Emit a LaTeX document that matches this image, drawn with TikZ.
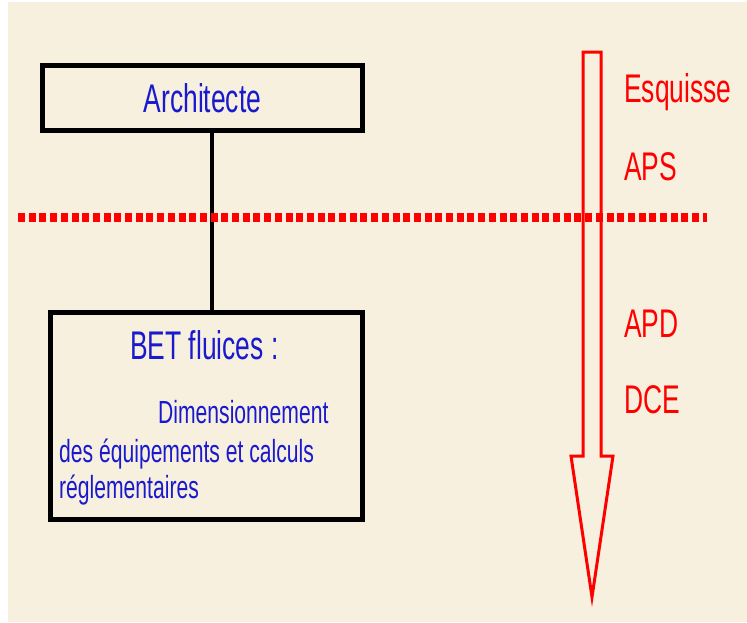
\documentclass[tikz,border=0pt]{standalone}
\usepackage{fontspec}
\setmainfont{Liberation Sans}
\newfontfamily\narrowfont[FakeStretch=0.66]{Liberation Sans}
\definecolor{cream}{RGB}{248,240,222}
\definecolor{txtblue}{RGB}{25,25,205}
\definecolor{arrred}{RGB}{255,0,0}
\tikzset{
  boxstyle/.style={draw=black, line width=5pt, inner sep=0pt},
  headtxt/.style={font=\narrowfont\fontsize{40}{48}\selectfont, inner sep=0pt, anchor=base west},
  bodytxt/.style={font=\narrowfont\fontsize{32}{38}\selectfont, text=txtblue, inner sep=0pt, anchor=base west},
  phasetxt/.style={headtxt, text=arrred},
  connector/.style={draw=black, line width=4pt},
  phaseline/.style={draw=arrred, line width=9pt, dash pattern=on 7pt off 3.7pt},
  bigarrow/.style={draw=arrred, line width=3pt, line join=miter}
}
\begin{document}
\begin{tikzpicture}[x=1pt,y=-1pt]
\useasboundingbox (0,0) rectangle (747,622);
\fill[white] (0,0) rectangle (747,622);
\fill[cream] (8,2) rectangle (747,622);
% boxes
\node[boxstyle, minimum width=320pt, minimum height=65pt, text=txtblue,
      font=\narrowfont\fontsize{40}{48}\selectfont] (arch) at (202.5,98) {Architecte};
\node[boxstyle, minimum width=312pt, minimum height=207pt] (bet) at (206.5,416) {};
% texts in BET box
\node[headtxt, text=txtblue] (bettitle) at (130,359) {BET fluices :};
\node[bodytxt] (dim1) at (158,423) {Dimensionnement};
\node[bodytxt] (dim2) at (59,462) {des équipements et calculs};
\node[bodytxt] (dim3) at (59,498) {réglementaires};
% connector
\coordinate (lx) at (212,0);
\draw[connector] (arch.south -| lx) -- (bet.north -| lx);
% dotted phase line
\coordinate (dl) at (18,217);
\coordinate (dr) at (707,217);
\draw[phaseline] (dl) -- (dr);
% big arrow
\draw[bigarrow] (583,52) -- (583,456) -- (571,456) -- (592,597) -- (613,456)
   -- (601,456) -- (601,52) -- cycle;
% phase labels
\node[phasetxt] (esq) at (624,102) {Esquisse};
\node[phasetxt] (aps) at (624,180) {APS};
\node[phasetxt] (apd) at (624,337) {APD};
\node[phasetxt] (dce) at (624,413) {DCE};
\end{tikzpicture}
\end{document}
